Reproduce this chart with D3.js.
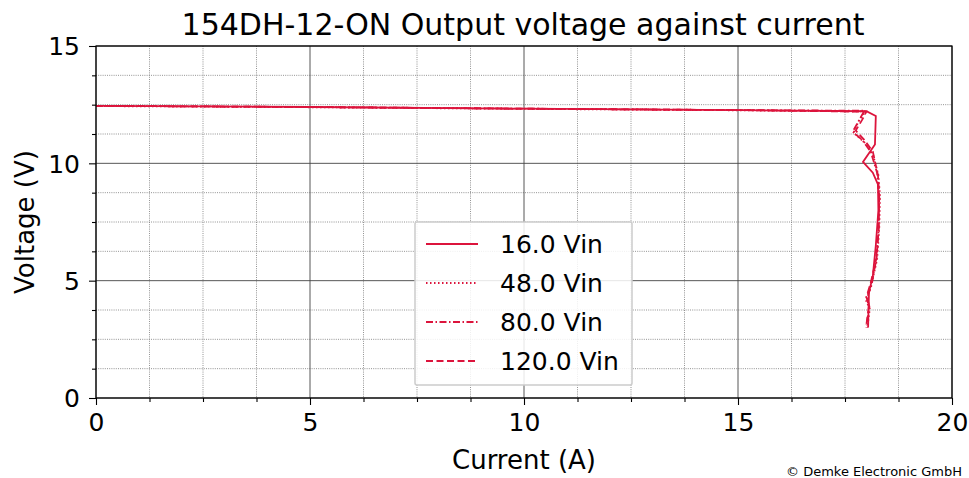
<!DOCTYPE html>
<html>
<head>
<meta charset="utf-8">
<script src="https://cdn.jsdelivr.net/npm/d3@7"></script>
<style>
  body { margin: 0; background: #fff; }
  text { font-family: "DejaVu Sans", sans-serif; }
</style>
</head>
<body>
<div id="chart"></div>
<script>
// Data
var seriesNames = ["16.0 Vin", "48.0 Vin", "80.0 Vin", "120.0 Vin"];
var dashStyles = ["", "1.5,2.5", "7,2.5,1.5,2.5", "7,3.5"];

var vin16 = [[0,12.45],[5,12.40],[10,12.33],[15,12.27],[18.0,12.22],[18.22,12.02],[18.2,10.8],
  [17.92,10.06],[18.15,9.6],[18.27,9.1],[18.28,8.0],[18.22,6.5],[18.15,5.2],[18.06,4.5],[18.05,3.8],[18.04,3.0]];
var vin48 = [[0,12.44],[5,12.39],[10,12.32],[15,12.26],[17.98,12.21],[17.82,11.8],[17.7,11.3],
  [17.95,10.9],[18.15,10.4],[18.28,9.5],[18.32,8.6],[18.3,7.2],[18.25,5.9],[18.1,4.7],[17.98,4.2],[18.08,3.8],[18.02,3.0]];
var vin80 = [[0,12.45],[5,12.40],[10,12.33],[15,12.27],[17.95,12.24],[17.85,11.9],[17.68,11.35],
  [17.9,11.0],[18.1,10.5],[18.25,9.6],[18.3,8.5],[18.28,7.0],[18.22,5.8],[18.12,4.8],[18.02,4.3],[18.07,3.9],[18.0,3.1]];
var vin120 = [[0,12.45],[5,12.40],[10,12.33],[15,12.27],[18.0,12.2],[17.9,11.85],[17.75,11.4],
  [17.95,11.0],[18.15,10.5],[18.27,9.5],[18.3,8.6],[18.29,7.3],[18.24,6.0],[18.1,4.9],[18.0,4.3],[18.06,3.9],[17.99,3.0]];
var allSeries = [vin16, vin48, vin80, vin120];

var xTicks = [0, 5, 10, 15, 20];
var yTicks = [0, 5, 10, 15];

var svgWidth = 969;
var svgHeight = 478;
var margin = { top: 46, right: 17, bottom: 80, left: 96 };
var width = svgWidth - margin.left - margin.right;
var height = svgHeight - margin.top - margin.bottom;
var lineColor = "#dc143c";

var svg = d3.select("#chart").append("svg")
  .attr("width", svgWidth)
  .attr("height", svgHeight);

var chartGroup = svg.append("g")
  .attr("transform", `translate(${margin.left}, ${margin.top})`);

var xScale = d3.scaleLinear().domain([0, 20]).range([0, width]);
var yScale = d3.scaleLinear().domain([0, 15]).range([height, 0]);

var xMinor = d3.range(0, 20.01, 1.25).filter(v => v % 5 !== 0);
var yMinor = d3.range(0, 15.01, 1.25).filter(v => v % 5 !== 0);

// minor grid
chartGroup.selectAll(".gx-minor").data(xMinor).enter().append("line")
  .attr("x1", d => xScale(d)).attr("x2", d => xScale(d))
  .attr("y1", 0).attr("y2", height)
  .attr("stroke", "#777").attr("stroke-width", 0.8).attr("stroke-dasharray", "1,1.2");
chartGroup.selectAll(".gy-minor").data(yMinor).enter().append("line")
  .attr("y1", d => yScale(d)).attr("y2", d => yScale(d))
  .attr("x1", 0).attr("x2", width)
  .attr("stroke", "#777").attr("stroke-width", 0.8).attr("stroke-dasharray", "1,1.2");

// major grid
chartGroup.selectAll(".gx-major").data(xTicks).enter().append("line")
  .attr("x1", d => xScale(d)).attr("x2", d => xScale(d))
  .attr("y1", 0).attr("y2", height)
  .attr("stroke", "#444").attr("stroke-width", 0.9);
chartGroup.selectAll(".gy-major").data(yTicks).enter().append("line")
  .attr("y1", d => yScale(d)).attr("y2", d => yScale(d))
  .attr("x1", 0).attr("x2", width)
  .attr("stroke", "#444").attr("stroke-width", 0.9);

// lines
var line = d3.line().x(d => xScale(d[0])).y(d => yScale(d[1]));
allSeries.forEach(function(s, i) {
  chartGroup.append("path")
    .datum(s)
    .attr("d", line)
    .attr("fill", "none")
    .attr("stroke", lineColor)
    .attr("stroke-width", 1.8)
    .attr("stroke-dasharray", dashStyles[i] || null);
});

// frame
chartGroup.append("rect")
  .attr("width", width).attr("height", height)
  .attr("fill", "none").attr("stroke", "#000").attr("stroke-width", 1.2);

// axes
var bottomAxis = d3.axisBottom(xScale).tickValues(xTicks).tickSize(7).tickPadding(8);
var leftAxis = d3.axisLeft(yScale).tickValues(yTicks).tickSize(7).tickPadding(9);

var xAxisG = chartGroup.append("g")
  .attr("transform", `translate(0, ${height})`)
  .call(bottomAxis);
var yAxisG = chartGroup.append("g").call(leftAxis);

chartGroup.append("g")
  .attr("transform", `translate(0, ${height})`)
  .call(d3.axisBottom(xScale).tickValues(xMinor).tickSize(4).tickFormat(""));
chartGroup.append("g")
  .call(d3.axisLeft(yScale).tickValues(yMinor).tickSize(4).tickFormat(""));

chartGroup.selectAll(".domain").remove();
chartGroup.selectAll(".tick line").attr("stroke", "#000").attr("stroke-width", 1.1);
xAxisG.selectAll("text").style("font-size", "25px").attr("fill", "#000");
yAxisG.selectAll("text").style("font-size", "25px").attr("fill", "#000").attr("dy", "0.35em");

// title and axis labels
svg.append("text")
  .attr("x", margin.left + width / 2 - 1).attr("y", 35)
  .attr("text-anchor", "middle")
  .style("font-size", "30px")
  .text("154DH-12-ON Output voltage against current");

svg.append("text")
  .attr("x", margin.left + width / 2).attr("y", 469)
  .attr("text-anchor", "middle")
  .style("font-size", "26px")
  .text("Current (A)");

svg.append("text")
  .attr("transform", `translate(34, ${margin.top + height / 2}) rotate(-90)`)
  .attr("text-anchor", "middle")
  .style("font-size", "26px")
  .text("Voltage (V)");

svg.append("text")
  .attr("x", 962).attr("y", 476)
  .attr("text-anchor", "end")
  .style("font-size", "13px")
  .text("© Demke Electronic GmbH");

// legend
var legend = svg.append("g").attr("transform", "translate(415, 222)");
legend.append("rect")
  .attr("width", 217).attr("height", 163)
  .attr("rx", 2)
  .attr("fill", "#fff").attr("fill-opacity", 0.85)
  .attr("stroke", "#ccc").attr("stroke-width", 1.5);
seriesNames.forEach(function(name, i) {
  var yy = 22 + i * 39;
  legend.append("line")
    .attr("x1", 11).attr("x2", 63).attr("y1", yy).attr("y2", yy)
    .attr("stroke", lineColor).attr("stroke-width", 1.8)
    .attr("stroke-dasharray", dashStyles[i] || null);
  legend.append("text")
    .attr("x", 85).attr("y", yy).attr("dy", "0.35em")
    .style("font-size", "25px")
    .text(name);
});
</script>
</body>
</html>
